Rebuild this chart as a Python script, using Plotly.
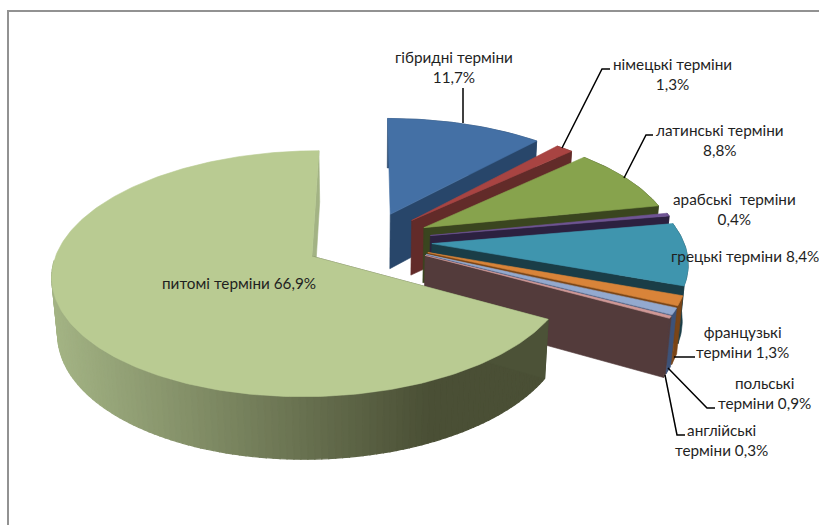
import numpy as np
import plotly.graph_objects as go

# Share of each group of terms, clockwise from twelve o'clock
categories = ["гібридні терміни", "німецькі терміни", "латинські терміни", "арабські  терміни",
              "грецькі терміни", "французькі терміни", "польські терміни", "англійські терміни",
              "питомі терміни"]
shares = [11.7, 1.3, 8.8, 0.4, 8.4, 1.3, 0.9, 0.3, 66.9]
top_colors = ["#4470A5", "#A84442", "#87A34D", "#6F5494", "#3F95AE", "#D98439", "#93A9CF", "#D09896", "#B9CB92"]
wall_colors = ["#28466A", "#622B29", "#3A451F", "#2C2140", "#1A3D47", "#7A4517", "#3D5278", "#533B3B", "#4C5237"]
cut_colors = ["#28466A", "#622B29", "#3A451F", "#2C2140", "#1A3D47", "#7A4517", "#3D5278", "#533B3B", "#A3B384"]

# Projection of the tilted, exploded pie
TILT = np.radians(27.5)
DIST = 6.2
FOCAL = 1597
CENTER = (368, 241)
RADIUS = 0.977
EXPLODE = 0.248
DEPTH = 0.248


def project(u, v, z=0.0):
    yc = v * np.sin(TILT) + z * np.cos(TILT)
    zc = DIST + v * np.cos(TILT) - z * np.sin(TILT)
    return CENTER[0] + FOCAL * u / zc, CENTER[1] - FOCAL * yc / zc


def rim(theta, apex, z=0.0):
    return project(apex[0] + RADIUS * np.sin(theta), apex[1] + RADIUS * np.cos(theta), z)


def poly(fig, pts, color, width=0.6):
    xs = [p[0] for p in pts] + [pts[0][0]]
    ys = [p[1] for p in pts] + [pts[0][1]]
    fig.add_trace(go.Scatter(x=xs, y=ys, mode="lines", fill="toself", fillcolor=color,
                             line=dict(color=color, width=width), hoverinfo="skip",
                             showlegend=False))


def mix(a, b, t):
    ca = [int(a[i:i + 2], 16) for i in (1, 3, 5)]
    cb = [int(b[i:i + 2], 16) for i in (1, 3, 5)]
    return "rgb(%d,%d,%d)" % tuple(round(x + (y - x) * t) for x, y in zip(ca, cb))


fig = go.Figure()

edges = np.radians(np.concatenate([[0], np.cumsum(shares)]) * 3.6)
slices = []
for i in range(len(shares)):
    t0, t1 = edges[i], edges[i + 1]
    mid = (t0 + t1) / 2
    slices.append((t0, t1, (EXPLODE * np.sin(mid), EXPLODE * np.cos(mid))))

# Small wedges back to front, the large wedge last
for i, (t0, t1, apex) in enumerate(slices):
    arc = np.linspace(t0, t1, max(int((t1 - t0) * 60), 3))
    top_arc = [rim(t, apex) for t in arc]
    low_arc = [rim(t, apex, -DEPTH) for t in arc]
    a_top = project(apex[0], apex[1])
    a_low = project(apex[0], apex[1], -DEPTH)

    if i < 8:
        # outer wall, then the cut face on the trailing side, then the top
        poly(fig, top_arc + low_arc[::-1], wall_colors[i])
        poly(fig, [a_top, top_arc[-1], low_arc[-1], a_low], cut_colors[i])
        poly(fig, [a_top] + top_arc, top_colors[i])
    else:
        # far cut face, a wall shaded left to right in strips, near cut face, then the top
        poly(fig, [a_top, top_arc[-1], low_arc[-1], a_low], cut_colors[i])
        front = np.linspace(np.radians(268), t0, 110)
        for j in range(len(front) - 1):
            x_mid = rim((front[j] + front[j + 1]) / 2, apex)[0]
            t = float(np.clip((x_mid - 55) / (430 - 55), 0, 1))
            color = mix("#A3B384", "#4A4F35", t)
            poly(fig, [rim(front[j], apex), rim(front[j + 1], apex),
                       rim(front[j + 1], apex, -DEPTH), rim(front[j], apex, -DEPTH)], color, width=1.2)
        poly(fig, [a_top, top_arc[0], low_arc[0], a_low], wall_colors[i])
        poly(fig, [a_top] + top_arc, top_colors[i])

# Slice labels
FONT = dict(family="Lato, Open Sans, sans-serif", size=15.3, color="#1f1f1f")
labels = [
    (453.5, 67, "гібридні терміни<br>11,7%"),
    (672, 74, "німецькі терміни<br>1,3%"),
    (720, 140, "латинські терміни<br>8,8%"),
    (734.5, 209, "арабські  терміни<br>0,4%"),
    (744.5, 256, "грецькі терміни 8,4%"),
    (742, 342, "французькі<br>терміни 1,3%"),
    (764.5, 393, "польські<br>терміни 0,9%"),
    (721.5, 440, "англійські<br>терміни 0,3%"),
    (238.5, 283, "питомі терміни 66,9%"),
]
annotations = [dict(x=x, y=y, text=t, showarrow=False, font=FONT, xref="x", yref="y") for x, y, t in labels]

# Leader lines from labels to slices
leaders = [
    [(463, 88), (463, 123)],
    [(610, 69), (602, 69), (562, 148)],
    [(653, 135), (646, 135), (624, 178)],
    [(695, 357), (674, 357)],
    [(715, 408), (707, 408), (668, 368)],
    [(685, 435), (677, 435), (665, 375)],
]
shapes = [dict(type="path", xref="x", yref="y", line=dict(color="#000000", width=1.5),
               path="M " + " L ".join(f"{x},{y}" for x, y in pts)) for pts in leaders]

# Chart frame along the top and left
shapes.append(dict(type="path", xref="x", yref="y", line=dict(color="#929292", width=2),
                   path="M 8,525 L 8,11 L 819,11"))

fig.update_layout(
    width=819, height=525, margin=dict(l=0, r=0, t=0, b=0),
    paper_bgcolor="white", plot_bgcolor="white",
    xaxis=dict(range=[0, 819], visible=False, fixedrange=True),
    yaxis=dict(range=[525, 0], visible=False, fixedrange=True),
    annotations=annotations, shapes=shapes, showlegend=False,
)
fig.write_html("out.html")
